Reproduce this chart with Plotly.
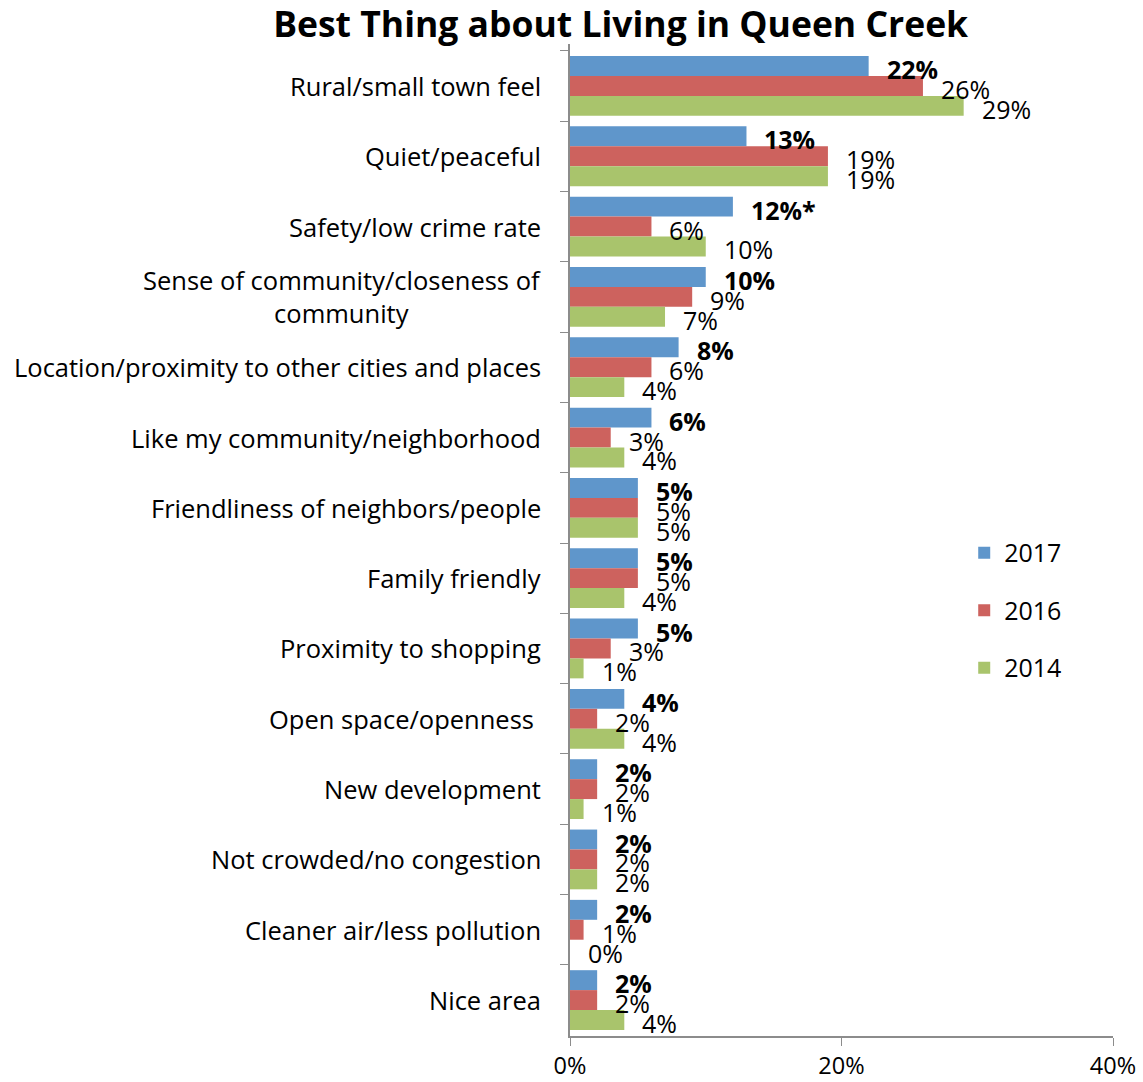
import plotly.graph_objects as go

categories = [
    "Rural/small town feel",
    "Quiet/peaceful",
    "Safety/low crime rate",
    "Sense of community/closeness of<br>community",
    "Location/proximity to other cities and places",
    "Like my community/neighborhood",
    "Friendliness of neighbors/people",
    "Family friendly",
    "Proximity to shopping",
    "Open space/openness ",
    "New development",
    "Not crowded/no congestion",
    "Cleaner air/less pollution",
    "Nice area",
]
series_names = ["2017", "2016", "2014"]
v2017 = [22, 13, 12, 10, 8, 6, 5, 5, 5, 4, 2, 2, 2, 2]
v2016 = [26, 19, 6, 9, 6, 3, 5, 5, 3, 2, 2, 2, 1, 2]
v2014 = [29, 19, 10, 7, 4, 4, 5, 4, 1, 4, 1, 2, 0, 4]
label2017 = ["22%", "13%", "12%*", "10%", "8%", "6%", "5%", "5%", "5%", "4%", "2%", "2%", "2%", "2%"]
colors = ["#5f96cb", "#cd625e", "#a9c46c"]

FONT = "Open Sans"
FS_CAT = 25.5
FS_LBL = 25
bargap = 0.15
n_series = 3
w = (1 - bargap) / n_series

fig = go.Figure()
all_vals = [v2017, v2016, v2014]
for name, vals, col in zip(series_names, all_vals, colors):
    fig.add_trace(go.Bar(
        y=categories, x=vals, orientation="h", name=name,
        marker=dict(color=col, line=dict(width=0)),
        legendgroup=name,
    ))

annotations = []
for i, (vals, name) in enumerate(zip(all_vals, series_names)):
    for j, v in enumerate(vals):
        txt = f"<b>{label2017[j]}</b>" if i == 0 else f"{v}%"
        annotations.append(dict(
            x=v, y=j + (i - 1) * w, xref="x", yref="y",
            text=txt, showarrow=False, xanchor="left", yanchor="middle",
            xshift=16, yshift=-3,
            font=dict(family=FONT, size=FS_LBL, color="black"),
        ))
for j, c in enumerate(categories):
    annotations.append(dict(
        x=0, y=j, xref="paper", yref="y", text=c, showarrow=False,
        xanchor="right", yanchor="middle", align="center", xshift=-27,
        font=dict(family=FONT, size=FS_CAT, color="black"),
    ))

fig.update_layout(
    template="none",
    width=1143, height=1082,
    margin=dict(l=570, r=30, t=44, b=46, autoexpand=False),
    plot_bgcolor="white", paper_bgcolor="white",
    barmode="group", bargap=bargap, bargroupgap=0,
    title=dict(text="<b>Best Thing about Living in Queen Creek</b>",
               x=0.543, xanchor="center", y=0.977, yanchor="middle",
               font=dict(family=FONT, size=35.5, color="black")),
    font=dict(family=FONT, size=FS_LBL, color="black"),
    legend=dict(x=0.726, y=0.429, xanchor="left", yanchor="middle",
                font=dict(family=FONT, size=FS_LBL, color="black"),
                tracegroupgap=22, bgcolor="rgba(0,0,0,0)"),
    annotations=annotations,
    showlegend=True,
)
fig.update_xaxes(range=[0, 40], tickvals=[0, 20, 40], ticktext=["0%", "20%", "40%"],
                 showgrid=False, zeroline=False, showline=True, linecolor="#8c8c8c",
                 linewidth=1.5, ticks="outside", ticklen=8, tickcolor="#8c8c8c",
                 tickfont=dict(family=FONT, size=23.5), ticklabelstandoff=0,
                 automargin=False)
fig.update_yaxes(autorange="reversed", showgrid=False, zeroline=False, showline=True,
                 linecolor="#8c8c8c", linewidth=1.5, ticks="outside", ticklen=8,
                 tickcolor="#8c8c8c", tickson="boundaries", showticklabels=False,
                 automargin=False)

fig.write_html("out.html")
